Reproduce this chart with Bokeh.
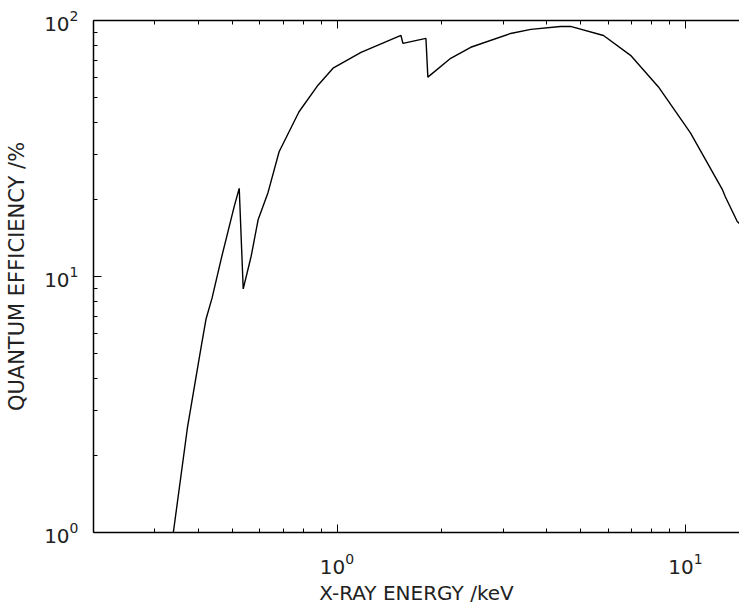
from bokeh.plotting import figure
from bokeh.models import LogAxis, CustomJSTickFormatter, Range1d, FixedTicker
from bokeh.embed import file_html
from bokeh.resources import INLINE

# Data (x-ray energy in keV, quantum efficiency in %)
energy_kev = [0.339, 0.372, 0.408, 0.421, 0.438, 0.465, 0.507, 0.524, 0.538, 0.567,
              0.594, 0.634, 0.682, 0.778, 0.882, 0.974, 1.172, 1.526, 1.546, 1.80,
              1.823, 2.12, 2.42, 3.15, 3.60, 4.38, 4.68, 5.82, 6.96, 8.37,
              10.34, 12.76, 13.02, 14.09, 14.28]
efficiency_pct = [1.0, 2.56, 5.37, 6.84, 8.25, 11.7, 18.8, 22.1, 8.94, 12.0,
                  16.7, 21.3, 30.7, 44.0, 55.9, 65.1, 75.1, 87.4, 81.4, 85.1,
                  60.1, 71.2, 78.6, 89.0, 92.3, 94.8, 94.8, 87.4, 73.1, 55.0,
                  36.4, 21.9, 20.5, 16.4, 16.1]

x_range = (0.2, 14.3)
y_range = (1.0, 100.0)
x_major = [1, 10]
x_minor = [0.2, 0.3, 0.4, 0.5, 0.6, 0.7, 0.8, 0.9, 2, 3, 4, 5, 6, 7, 8, 9]
y_major = [1, 10, 100]
y_minor = [2, 3, 4, 5, 6, 7, 8, 9, 20, 30, 40, 50, 60, 70, 80, 90]
x_label = "X-RAY ENERGY /keV"
y_label = "QUANTUM EFFICIENCY /%"

FONT = "DejaVu Sans"
TXT = "#222222"

p = figure(width=739, height=607, x_axis_type="log", y_axis_type="log",
           x_range=Range1d(*x_range), y_range=Range1d(*y_range),
           output_backend="svg", toolbar_location=None,
           min_border_left=93, min_border_right=0, min_border_top=20, min_border_bottom=70,
           background_fill_color="white", border_fill_color="white")

p.outline_line_color = None
p.xgrid.visible = False
p.ygrid.visible = False

p.line(energy_kev, efficiency_pct, line_color="black", line_width=1.4)

p.xaxis.ticker = FixedTicker(ticks=x_major, minor_ticks=x_minor)
p.yaxis.ticker = FixedTicker(ticks=y_major, minor_ticks=y_minor)

for ax in (p.xaxis[0], p.yaxis[0]):
    ax.axis_line_color = "black"
    ax.axis_line_width = 1.5
    ax.major_tick_in = 8
    ax.major_tick_out = 0
    ax.minor_tick_in = 4
    ax.minor_tick_out = 0
    ax.major_tick_line_color = "black"
    ax.minor_tick_line_color = "black"
    ax.major_label_text_font = FONT
    ax.major_label_text_font_size = "20px"
    ax.major_label_text_color = TXT
    ax.axis_label_text_font = FONT
    ax.axis_label_text_font_style = "normal"
    ax.axis_label_text_color = TXT

p.xaxis.axis_label = x_label
p.yaxis.axis_label = y_label
p.xaxis.axis_label_text_font_size = "20px"
p.yaxis.axis_label_text_font_size = "21px"
p.xaxis.major_label_standoff = 20
p.xaxis.axis_label_standoff = 4
p.yaxis.major_label_standoff = 15
p.yaxis.axis_label_standoff = 12

top = LogAxis(ticker=FixedTicker(ticks=x_major, minor_ticks=x_minor),
              formatter=CustomJSTickFormatter(code="return ''"))
top.axis_line_color = "black"
top.axis_line_width = 1.5
top.major_tick_in = 8
top.major_tick_out = 0
top.minor_tick_in = 4
top.minor_tick_out = 0
top.major_label_standoff = 0
p.add_layout(top, "above")

open("out.html", "w").write(file_html(p, INLINE))
